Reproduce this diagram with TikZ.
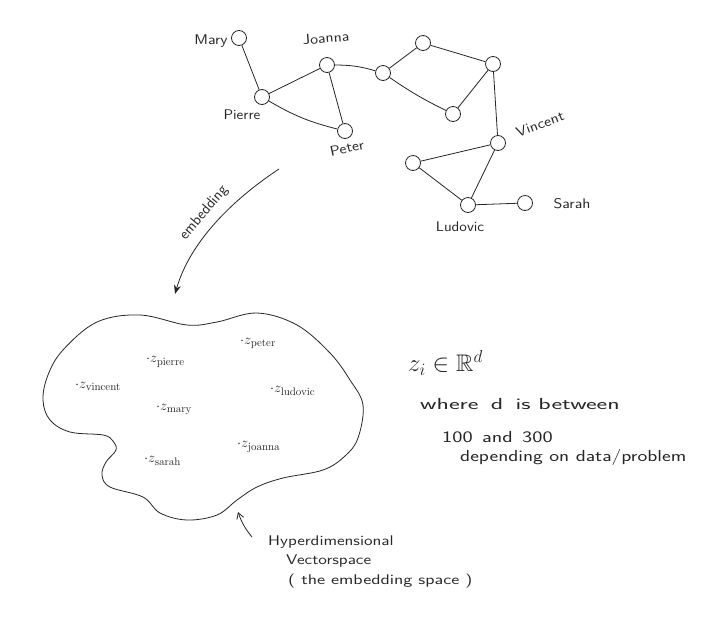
\documentclass[tikz,border=0pt]{standalone}
\usepackage{amsmath,amssymb,graphicx}
\usetikzlibrary{arrows.meta}

% horizontally widened text, for the loose hand-lettered look
\newcommand{\widetxt}[2]{\scalebox{#1}[1]{#2}}

\begin{document}
\begin{tikzpicture}[x=1pt,y=-1pt,
  ink/.style={draw=black!85, line width=0.8pt},
  vertex/.style={circle, ink, minimum size=15pt, inner sep=0pt, fill=white},
  edge/.style={ink},
  nlabel/.style={font=\sffamily\fontsize{14}{16}\selectfont, inner sep=1pt, text=black!85},
  zlab/.style={font=\fontsize{15}{17}\selectfont, anchor=west, inner sep=0pt, text=black!85},
  note/.style={font=\sffamily\fontsize{16}{18}\selectfont, anchor=west, inner sep=0pt, text=black!85},
  small note/.style={note, font=\sffamily\fontsize{14}{16}\selectfont},
]
\useasboundingbox[fill=white] (0,0) rectangle (722,619);

% ---- social graph ----
\node[vertex] (mary)    at (239,38)  {};
\node[vertex] (joanna)  at (327,65)  {};
\node[vertex] (pierre)  at (262,97)  {};
\node[vertex] (peter)   at (345,131) {};
\node[vertex] (hub)     at (383,73)  {};
\node[vertex] (top)     at (423,43)  {};
\node[vertex] (rtop)    at (493,64)  {};
\node[vertex] (mlow)    at (453,114) {};
\node[vertex] (vincent) at (498,143) {};
\node[vertex] (left)    at (413,163) {};
\node[vertex] (ludovic) at (468,205) {};
\node[vertex] (sarah)   at (525,203) {};

\draw[edge] (mary) -- (pierre);
\draw[edge] (pierre) -- (joanna);
\draw[edge] (pierre) to[bend right=8] (peter);
\draw[edge] (joanna) -- (peter);
\draw[edge] (joanna) to[bend left=8] (hub);
\draw[edge] (hub) -- (top);
\draw[edge] (hub) to[bend right=4] (mlow);
\draw[edge] (top) -- (rtop);
\draw[edge] (rtop) -- (mlow);
\draw[edge] (rtop) -- (vincent);
\draw[edge] (vincent) -- (left);
\draw[edge] (vincent) -- (ludovic);
\draw[edge] (left) -- (ludovic);
\draw[edge] (ludovic) -- (sarah);

\node[nlabel] (lmary)    at (211,41)  {\widetxt{1.15}{Mary}};
\node[nlabel, rotate=5]  (ljoanna) at (326,38) {\widetxt{1.15}{Joanna}};
\node[nlabel] (lpierre)  at (242,115) {\widetxt{1.1}{Pierre}};
\node[nlabel, rotate=12] (lpeter)  at (347,148) {\widetxt{1.15}{Peter}};
\node[nlabel, rotate=20] (lvincent) at (540,124) {\widetxt{1.15}{Vincent}};
\node[nlabel] (lsarah)   at (572,204) {\widetxt{1.15}{Sarah}};
\node[nlabel] (lludovic) at (460,227) {\widetxt{1.1}{Ludovic}};

% ---- embedding arrow ----
\coordinate (embA) at (279,169);
\coordinate (embB) at (175,294);
\draw[ink, -{Stealth[length=9pt,width=7pt]}] (embA) .. controls (232,200) and (190,242) .. (embB);
\node[nlabel, rotate=50, font=\sffamily\fontsize{15}{17}\selectfont] (lemb) at (204,213) {embedding};

% ---- embedding space blob ----
\draw[ink] plot[smooth cycle, tension=0.6] coordinates {
  (43,400) (48,375) (63,350) (97,322) (140,315) (187,325) (217,322) (257,313)
  (297,325) (330,353) (350,380) (363,405) (358,438) (345,456) (323,470)
  (283,478) (257,487) (237,500) (217,515) (187,520) (160,513) (143,497)
  (110,487) (102,475) (106,462) (116,450) (113,441) (103,435) (70,432) (50,420)};

\node[zlab] (zpierre)  at (146,362) {$\cdot z_{\mathrm{pierre}}$};
\node[zlab] (zpeter)   at (240,343) {$\cdot z_{\mathrm{peter}}$};
\node[zlab] (zvincent) at (75,386)  {$\cdot z_{\mathrm{vincent}}$};
\node[zlab] (zludovic) at (270,391) {$\cdot z_{\mathrm{ludovic}}$};
\node[zlab] (zmary)    at (156,409) {$\cdot z_{\mathrm{mary}}$};
\node[zlab] (zjoanna)  at (237,447) {$\cdot z_{\mathrm{joanna}}$};
\node[zlab] (zsarah)   at (144,461) {$\cdot z_{\mathrm{sarah}}$};

% ---- annotations ----
\node[note, font=\fontsize{24}{26}\selectfont] (zin) at (408,363) {$z_i \in \mathbb{R}^d$};
\node[note] (where)  at (420,404) {\widetxt{1.6}{where \,d\, is between}};
\node[note] (range)  at (442,437) {\widetxt{1.35}{100\hspace{7pt}and\hspace{7pt}300}};
\node[note] (depend) at (460,457) {\widetxt{1.3}{depending on data/problem}};

\coordinate (hypA) at (252,537);
\coordinate (hypB) at (238,512);
\draw[ink, -{Straight Barb[length=6pt,width=7pt]}] (hypA) to[bend left=10] (hypB);
\node[small note] (hyp1) at (268,542) {\widetxt{1.25}{Hyperdimensional}};
\node[small note] (hyp2) at (286,561) {\widetxt{1.25}{Vectorspace}};
\node[small note] (hyp3) at (288,581) {\widetxt{1.32}{( the embedding space )}};
\end{tikzpicture}
\end{document}
